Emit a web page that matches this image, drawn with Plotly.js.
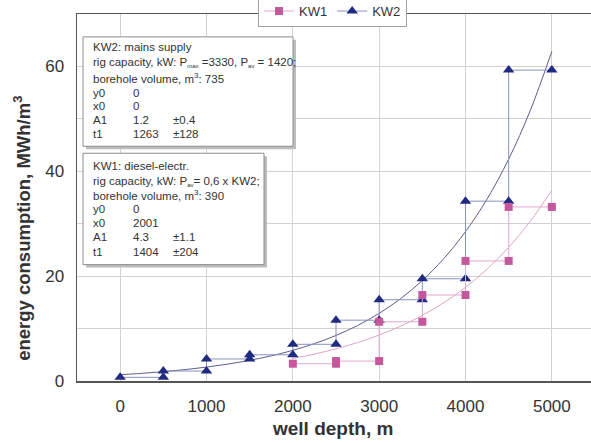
<!DOCTYPE html>
<html>
<head>
<meta charset="utf-8">
<script src="https://cdn.plot.ly/plotly-3.0.1.min.js"></script>
<style>html,body{margin:0;padding:0;overflow:hidden;background:#fff}#chart{width:600px;height:453px;margin-top:-10px}</style>
</head>
<body>
<div id="chart"></div>
<script>
// Step data (interval start, interval end, value)
const kw2From = [0, 500, 1000, 1500, 2000, 2500, 3000, 3500, 4000, 4500];
const kw2To   = [500, 1000, 1500, 2000, 2500, 3000, 3500, 4000, 4500, 5000];
const kw2Value = [0.7, 1.9, 4.2, 5.0, 7.0, 11.6, 15.5, 19.5, 34.3, 59.3];

const kw1From = [2000, 2500, 3000, 3500, 4000, 4500];
const kw1To   = [2500, 3000, 3500, 4000, 4500, 5000];
const kw1Value = [3.3, 3.8, 11.3, 16.4, 22.9, 33.2];

// Fitted curves
const kw2CurveX = [0, 250, 500, 750, 1000, 1250, 1500, 1750, 2000, 2250, 2500, 2750, 3000, 3250, 3500, 3750, 4000, 4250, 4500, 4750, 5000];
const kw2CurveY = [1.20, 1.46, 1.78, 2.17, 2.65, 3.23, 3.94, 4.80, 5.85, 7.13, 8.69, 10.59, 12.90, 15.73, 19.17, 23.37, 28.49, 34.72, 42.32, 51.59, 62.88];
const kw1CurveX = [2000, 2250, 2500, 2750, 3000, 3250, 3500, 3750, 4000, 4250, 4500, 4750, 5000];
const kw1CurveY = [4.30, 5.13, 6.14, 7.33, 8.76, 10.47, 12.51, 14.94, 17.86, 21.34, 25.50, 30.47, 36.40];

const xTicks = [0, 1000, 2000, 3000, 4000, 5000];
const yTicks = [0, 20, 40, 60];

function steps(from, to, val) {
  const x = [], y = [];
  for (let i = 0; i < val.length; i++) {
    x.push(from[i], to[i]);
    y.push(val[i], val[i]);
  }
  return {x, y};
}
const s2 = steps(kw2From, kw2To, kw2Value);
const s1 = steps(kw1From, kw1To, kw1Value);

const blue = '#1f2a80', pink = '#c4589c';

const traces = [
  {x: kw2CurveX, y: kw2CurveY, mode: 'lines', line: {color: '#5c5f8c', width: 1, shape: 'spline'}, showlegend: false, hoverinfo: 'skip'},
  {x: kw1CurveX, y: kw1CurveY, mode: 'lines', line: {color: '#dba6c6', width: 1, shape: 'spline'}, showlegend: false, hoverinfo: 'skip'},
  {x: s2.x, y: s2.y, name: 'KW2', mode: 'lines+markers', line: {color: '#8a91c0', width: 1},
   marker: {symbol: 'triangle-up', size: 10, color: blue}},
  {x: s1.x, y: s1.y, name: 'KW1', mode: 'lines+markers', line: {color: '#e3a9cb', width: 1},
   marker: {symbol: 'square', size: 8, color: pink}}
];

// page-pixel helpers for plot area (left 77, top 12, width 518, height 369 on the page)
const px = v => (v - 77) / 518;
const py = v => (381 - v) / 369;

const txt = '#333';
const fs = 11.5;
const sub = s => '<sub><span style="font-size:6px">' + s + '</span></sub>';
const ann = [];
function line(x, y, t) {
  ann.push({xref: 'paper', yref: 'paper', x: px(x), y: py(y), xanchor: 'left', yanchor: 'middle',
    text: t, showarrow: false, font: {size: fs, color: txt}});
}
// Box 1
line(90.5, 45, 'KW2: mains supply');
line(90.5, 61, 'rig capacity, kW: P' + sub('max') + ' =3330, P' + sub('av') + ' = 1420;');
line(90.5, 76, 'borehole volume, m<sup>3</sup>: 735');
[['y0','0',''],['x0','0',''],['A1','1.2','±0.4'],['t1','1263','±128']].forEach((r, i) => {
  const yy = 91 + i * 14;
  line(90.5, yy, r[0]); line(131, yy, r[1]); if (r[2]) line(171, yy, r[2]);
});
// Box 2
line(90.5, 165, 'KW1: diesel-electr.');
line(90.5, 180, 'rig capacity, kW: P' + sub('av') + '= 0,6 x KW2;');
line(90.5, 194, 'borehole volume, m<sup>3</sup>: 390');
[['y0','0',''],['x0','2001',''],['A1','4.3','±1.1'],['t1','1404','±204']].forEach((r, i) => {
  const yy = 208 + i * 14.3;
  line(90.5, yy, r[0]); line(131, yy, r[1]); if (r[2]) line(171, yy, r[2]);
});
// axis titles
ann.push({xref: 'paper', yref: 'paper', x: px(22), y: py(228), xanchor: 'center', yanchor: 'middle',
  textangle: -90, showarrow: false, text: '<b>energy consumption, MWh/m<sup>3</sup></b>',
  font: {size: 18.5, color: txt}});
ann.push({xref: 'paper', yref: 'paper', x: px(332), y: py(429), xanchor: 'center', yanchor: 'middle',
  showarrow: false, text: '<b>well depth, m</b>', font: {size: 19, color: txt}});

function box(x0, y0, x1, y1) {
  return [
    {type: 'rect', xref: 'paper', yref: 'paper', x0: px(x0 + 3), x1: px(x1 + 3), y0: py(y0 + 3), y1: py(y1 + 3),
     fillcolor: '#bdbdbd', line: {width: 0}, layer: 'above'},
    {type: 'rect', xref: 'paper', yref: 'paper', x0: px(x0), x1: px(x1), y0: py(y0), y1: py(y1),
     fillcolor: '#ffffff', line: {color: '#8c8c8c', width: 1}, layer: 'above'}
  ];
}
const shapes = [...box(83, 35, 293, 145), ...box(83, 152, 264, 264)];

const layout = {
  width: 600, height: 453,
  margin: {l: 77, r: 5, t: 22, b: 62},
  paper_bgcolor: '#fff', plot_bgcolor: '#fff',
  font: {family: '"Liberation Sans", Arial, sans-serif', color: txt},
  showlegend: true,
  legend: {orientation: 'h', x: px(258), xanchor: 'left', y: py(-7), yanchor: 'top',
    bgcolor: '#fff', bordercolor: '#a0a0a0', borderwidth: 1, font: {size: 13, color: txt},
    traceorder: 'reversed'},
  xaxis: {range: [-500, 5500], tickvals: xTicks, ticktext: xTicks.map(String),
    showgrid: true, gridcolor: '#d2d2d2', gridwidth: 1, zeroline: false,
    showline: true, linecolor: '#555', linewidth: 1.5, mirror: true, ticks: '',
    ticklabelstandoff: 9, tickfont: {size: 17, color: txt}},
  yaxis: {range: [0, 70], tickvals: yTicks, ticktext: yTicks.map(String),
    showgrid: true, gridcolor: '#d2d2d2', gridwidth: 1, zeroline: false,
    minor: {dtick: 10, showgrid: true, gridcolor: '#d2d2d2', gridwidth: 1, ticks: ''},
    showline: true, linecolor: '#555', linewidth: 1.5, mirror: true, ticks: '',
    ticklabelstandoff: 8, tickfont: {size: 17, color: txt}},
  shapes: shapes,
  annotations: ann
};

Plotly.newPlot('chart', traces, layout, {displayModeBar: false, staticPlot: true});
</script>
</body>
</html>
